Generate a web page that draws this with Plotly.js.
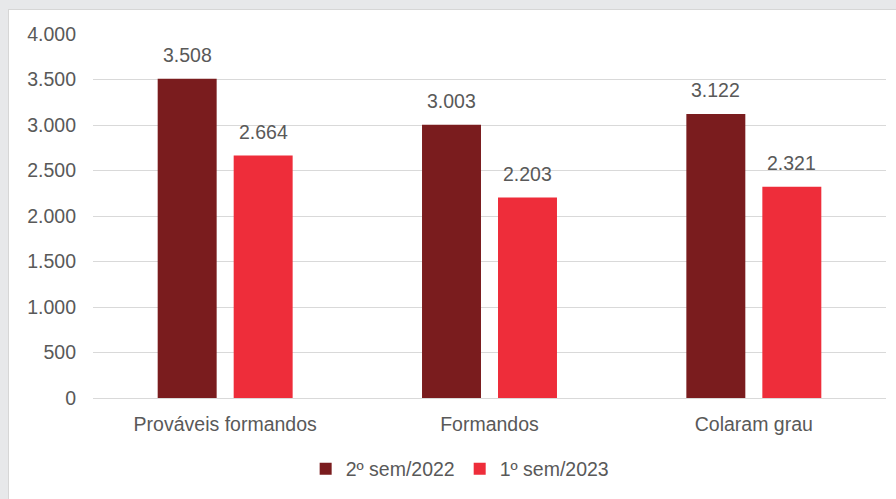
<!DOCTYPE html>
<html><head><meta charset="utf-8">
<script src="https://cdn.plot.ly/plotly-3.0.1.min.js"></script>
<style>
html,body{margin:0;padding:0;background:#fff;}
#frame{position:relative;width:896px;height:499px;background:#e7e8ea;overflow:hidden;}
#chart{position:absolute;left:8px;top:9px;width:888px;height:490px;background:#fff;border-left:1px solid #d6d6d6;border-top:1px solid #d6d6d6;box-sizing:border-box;}
</style></head>
<body><div id="frame"><div id="chart"></div></div>
<script>
const categories = ["Prováveis formandos", "Formandos", "Colaram grau"];
const seriesNames = ["2º sem/2022", "1º sem/2023"];
const values2022 = [3508, 3003, 3122];
const values2023 = [2664, 2203, 2321];
const tickVals = [0, 500, 1000, 1500, 2000, 2500, 3000, 3500, 4000];

const colors = ["#7a1c1e", "#ee2d3a"];
const font = {family: "Liberation Sans, Arial, sans-serif", size: 19.5, color: "#595959"};

const traces = [values2022, values2023].map((v, i) => ({
  type: "bar", x: categories, y: v, name: seriesNames[i],
  marker: {color: colors[i]},
  textposition: "none", hoverinfo: "skip"
}));

const annotations = [];
[values2022, values2023].forEach((v, i) => {
  v.forEach((val, j) => {
    annotations.push({
      x: categories[j], y: val, xref: "x", yref: "y",
      text: val.toLocaleString("de-DE"),
      showarrow: false, yanchor: "middle", yshift: 24,
      xshift: i === 0 ? -38 : 38,
      font: font
    });
  });
});

const layout = {
  width: 887, height: 489,
  margin: {l: 84, r: 10, t: 24, b: 99},
  paper_bgcolor: "#ffffff", plot_bgcolor: "#ffffff",
  separators: ",.",
  font: font,
  barmode: "group", bargap: 0.425, bargroupgap: 0.224,
  xaxis: {showgrid: false, showline: false, zeroline: false, ticks: "", tickfont: font, ticklabelstandoff: 12, automargin: false},
  yaxis: {range: [0, 4000], tickvals: tickVals, tickformat: ",", showgrid: true, gridcolor: "#d9d9d9", gridwidth: 1,
          zeroline: true, zerolinecolor: "#d9d9d9", zerolinewidth: 1, showline: false, ticks: "", ticklabelstandoff: 16, tickfont: font, automargin: false},
  legend: {orientation: "h", x: 0.463, xanchor: "center", y: -0.195, yanchor: "middle", font: font, itemwidth: 30, traceorder: "normal"},
  annotations: annotations,
  showlegend: true
};
Plotly.newPlot("chart", traces, layout, {displayModeBar: false, staticPlot: true});
</script></body></html>
